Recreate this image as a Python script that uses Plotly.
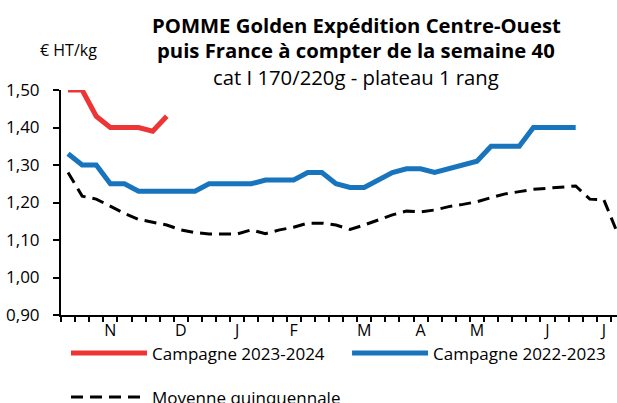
import plotly.graph_objects as go

# Weekly categories (week 41 -> week 28 of next year)
weeks = list(range(41, 53)) + list(range(1, 29))

month_labels = ["N", "D", "J", "F", "M", "A", "M", "J", "J"]
month_weeks = [44, 49, 1, 5, 10, 14, 18, 23, 27]

y_ticks = [0.90, 1.00, 1.10, 1.20, 1.30, 1.40, 1.50]
y_tick_text = ["0,90", "1,00", "1,10", "1,20", "1,30", "1,40", "1,50"]

camp_2023_2024 = [1.50, 1.50, 1.43, 1.40, 1.40, 1.40, 1.39, 1.43]

camp_2022_2023 = [1.33, 1.30, 1.30, 1.25, 1.25, 1.23, 1.23, 1.23, 1.23, 1.23,
                  1.25, 1.25, 1.25, 1.25, 1.26, 1.26, 1.26, 1.28, 1.28, 1.25,
                  1.24, 1.24, 1.26, 1.28, 1.29, 1.29, 1.28, 1.29, 1.30, 1.31,
                  1.35, 1.35, 1.35, 1.40, 1.40, 1.40, 1.40]

moyenne_quinquennale = [1.280, 1.217, 1.209, 1.190, 1.171, 1.155, 1.147, 1.140, 1.127, 1.120,
                        1.116, 1.116, 1.116, 1.127, 1.117, 1.127, 1.134, 1.145, 1.145, 1.140,
                        1.128, 1.140, 1.153, 1.167, 1.177, 1.175, 1.180, 1.189, 1.195, 1.202,
                        1.213, 1.223, 1.229, 1.235, 1.238, 1.240, 1.244, 1.209, 1.207, 1.115]

series_names = ["Campagne 2023-2024", "Campagne 2022-2023", "Moyenne quinquennale"]

RED = "#EE3535"
BLUE = "#1874BD"
FONT = "Open Sans"

idx = list(range(len(weeks)))

fig = go.Figure()
fig.add_trace(go.Scatter(
    x=idx[:len(camp_2023_2024)], y=camp_2023_2024, mode="lines",
    name=series_names[0], line=dict(color=RED, width=5), legend="legend"))
fig.add_trace(go.Scatter(
    x=idx[:len(camp_2022_2023)], y=camp_2022_2023, mode="lines",
    name=series_names[1], line=dict(color=BLUE, width=5), legend="legend2"))
fig.add_trace(go.Scatter(
    x=idx[:len(moyenne_quinquennale)], y=moyenne_quinquennale, mode="lines",
    name=series_names[2], line=dict(color="black", width=3, dash="12px,7px"),
    legend="legend3"))

month_pos = [weeks.index(w) for w in month_weeks]
boundaries = [i - 0.5 for i in range(len(weeks) + 1)]

legend_common = dict(orientation="h", xanchor="left", yanchor="top",
                     font=dict(size=17), itemwidth=76, bgcolor="rgba(0,0,0,0)")

fig.update_layout(
    width=617, height=403,
    margin=dict(l=61, r=0, t=90, b=88, autoexpand=False),
    paper_bgcolor="white", plot_bgcolor="white",
    font=dict(family=FONT, size=16, color="black"),
    showlegend=True,
    xaxis=dict(
        range=[-0.5, 38.93], showgrid=False, zeroline=False,
        showline=True, linecolor="black", linewidth=2,
        tickmode="array", tickvals=month_pos, ticktext=month_labels,
        ticks="", tickfont=dict(size=16),
        minor=dict(tickmode="array", tickvals=boundaries, ticks="outside",
                   ticklen=5, tickwidth=1.5, tickcolor="black", showgrid=False),
    ),
    yaxis=dict(
        range=[0.9, 1.5], showgrid=False, zeroline=False,
        showline=True, linecolor="black", linewidth=2,
        tickmode="array", tickvals=y_ticks, ticktext=y_tick_text,
        ticks="outside", ticklen=6, tickwidth=1.5, tickcolor="black",
        tickfont=dict(size=17), ticklabelstandoff=10,
    ),
    legend=dict(x=0.009, y=-0.0906, **legend_common),
    legend2=dict(x=0.5145, y=-0.0906, **legend_common),
    legend3=dict(x=0.009, y=-0.286, **legend_common),
    annotations=[
        dict(text="<b>POMME Golden Expédition Centre-Ouest</b>", xref="paper", yref="paper",
             x=0.5306, y=1.289, xanchor="center", yanchor="middle", showarrow=False,
             font=dict(size=20.3)),
        dict(text="<b>puis France à compter de la semaine 40</b>", xref="paper", yref="paper",
             x=0.5306, y=1.177, xanchor="center", yanchor="middle", showarrow=False,
             font=dict(size=20.3)),
        dict(text="cat I 170/220g - plateau 1 rang", xref="paper", yref="paper",
             x=0.5306, y=1.056, xanchor="center", yanchor="middle", showarrow=False,
             font=dict(size=20.3)),
        dict(text="€ HT/kg", xref="paper", yref="paper",
             x=0.0126, y=1.178, xanchor="center", yanchor="middle", showarrow=False,
             font=dict(size=16)),
    ],
)

fig.write_html("out.html", config={"displayModeBar": False},
               post_script="document.body.style.margin='0';")
